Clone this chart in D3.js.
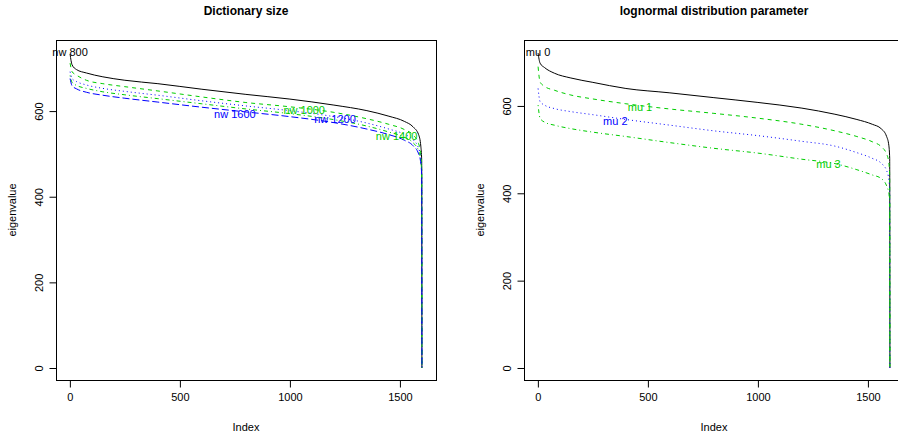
<html>
<head>
<meta charset="utf-8">
<style>
  body { margin: 0; background: #fff; }
  text { font-family: "Liberation Sans", Arial, Helvetica, sans-serif; }
</style>
</head>
<body>
<svg id="chart" width="898" height="434"></svg>
<script src="https://d3js.org/d3.v7.min.js" charset="utf-8"></script>
<script>
const index = [1, 10, 30, 75, 150, 250, 400, 600, 800, 1000, 1200, 1350, 1450, 1520, 1560, 1585, 1595, 1599, 1600]

// Dictionary size panel
const nw800  = [733, 708, 697, 689, 680, 672, 664, 651, 639, 628, 614, 601, 588, 576, 563, 545, 518, 485, 0]
const nw1000 = [712, 692, 684, 672, 664, 657, 647, 633, 620, 610, 597, 582, 569, 557, 544, 524, 497, 465, 0]
const nw1200 = [692, 676, 669, 661, 653, 646, 637, 624, 612, 601, 587, 572, 558, 546, 533, 513, 489, 458, 0]
const nw1400 = [683, 667, 660, 653, 645, 638, 629, 617, 605, 594, 580, 565, 551, 539, 526, 507, 484, 452, 0]
const nw1600 = [676, 659, 652, 644, 637, 630, 621, 609, 598, 587, 573, 558, 545, 532, 519, 500, 478, 448, 0]

// lognormal distribution parameter panel
const mu0 = [721, 698, 688, 675, 664, 654, 640, 630, 619, 608, 595, 581, 569, 558, 548, 530, 510, 480, 0]
const mu1 = [690, 655, 645, 636, 625, 616, 605, 593, 583, 572, 558, 543, 530, 518, 507, 490, 470, 440, 0]
const mu2 = [640, 610, 602, 594, 587, 580, 569, 556, 543, 532, 519, 508, 493, 480, 469, 452, 432, 405, 0]
const mu3 = [602, 572, 563, 556, 548, 540, 530, 516, 503, 492, 478, 468, 454, 442, 434, 417, 400, 375, 0]

// label anchors [index, value]
const nwLabels = [["nw 800", 1, 737], ["nw 1000", 1065, 602], ["nw 1200", 1205, 581], ["nw 1400", 1485, 542], ["nw 1600", 750, 592]]
const muLabels = [["mu 0", 1, 723], ["mu 1", 464, 598], ["mu 2", 352, 566], ["mu 3", 1321, 467]]

const xTicks = [0, 500, 1000, 1500]
const yTicks = [0, 200, 400, 600]

const GREEN = "#00cd00", BLUE = "#0000ff"
const dash = { solid: null, dashed: "4,4", dotted: "1,3", dotdash: "1,3,4,3", longdash: "7,3" }

const svg = d3.select("#chart")

function drawPanel(p) {
    let x = d3.scaleLinear().domain([-63, 1664]).range([p.left, p.left + 380])
    let y = d3.scaleLinear().domain(p.yDomain).range([380, 40])
    let g = svg.append("g")

    // series
    let line = d3.line().x(d => x(d[0])).y(d => y(d[1])).curve(d3.curveMonotoneX)
    p.series.forEach(s => {
        g.append("path")
            .datum(index.map((v, i) => [v, s.values[i]]))
            .attr("d", line)
            .attr("fill", "none")
            .attr("stroke", s.color)
            .attr("stroke-width", 1)
            .attr("stroke-dasharray", dash[s.lty])
    })

    // labels on the curves
    p.labels.forEach((l, i) => {
        g.append("text")
            .attr("x", x(l[1])).attr("y", y(l[2])).attr("dy", "0.35em")
            .attr("text-anchor", "middle")
            .style("font-size", "11px")
            .attr("fill", p.labelColors[i])
            .text(l[0])
    })

    // box
    g.append("rect")
        .attr("x", p.left + 0.5).attr("y", 40.5)
        .attr("width", 380).attr("height", 340)
        .attr("fill", "none").attr("stroke", "black")

    // axes
    let xAxis = d3.axisBottom(x).tickValues(xTicks).tickSize(7).tickPadding(6).tickFormat(d3.format("d"))
    let xg = g.append("g").attr("transform", "translate(0,380.5)").call(xAxis)
    let yAxis = d3.axisLeft(y).tickValues(yTicks).tickSize(7).tickPadding(10).tickFormat(d3.format("d"))
    let yg = g.append("g").attr("transform", `translate(${p.left + 0.5},0)`).call(yAxis)
    ;[xg, yg].forEach(a => {
        a.selectAll("text").style("font-size", "11px").attr("font-family", null).attr("fill", "black")
        a.selectAll("line").attr("stroke", "black")
        a.select(".domain").attr("stroke", "black")
    })
    xg.select(".domain").attr("d", `M${x(0)},0H${x(1500)}`)
    yg.select(".domain").attr("d", `M0,${y(0)}V${y(600)}`)
    yg.selectAll(".tick text")
        .attr("text-anchor", "middle").attr("dy", null)
        .attr("transform", function () {
            return `translate(-18,0) rotate(-90)`
        })
        .attr("x", 0).attr("y", 0)
        .attr("dominant-baseline", "central")

    // titles
    g.append("text")
        .attr("x", p.left + 190).attr("y", 15)
        .attr("text-anchor", "middle")
        .style("font-size", "12px").style("font-weight", "bold")
        .text(p.title)
    g.append("text")
        .attr("x", p.left + 190).attr("y", 431)
        .attr("text-anchor", "middle")
        .style("font-size", "11px")
        .text("Index")
    g.append("text")
        .attr("transform", `translate(${p.left - 44},210) rotate(-90)`)
        .attr("text-anchor", "middle").attr("dominant-baseline", "central")
        .style("font-size", "11px")
        .text("eigenvalue")
}

drawPanel({
    left: 56, yDomain: [-28, 766], title: "Dictionary size",
    series: [
        { values: nw800, color: "black", lty: "solid" },
        { values: nw1000, color: GREEN, lty: "dashed" },
        { values: nw1200, color: BLUE, lty: "dotted" },
        { values: nw1400, color: GREEN, lty: "dotdash" },
        { values: nw1600, color: BLUE, lty: "longdash" }
    ],
    labels: nwLabels, labelColors: ["black", GREEN, BLUE, GREEN, BLUE]
})

drawPanel({
    left: 524, yDomain: [-27.5, 751], title: "lognormal distribution parameter",
    series: [
        { values: mu0, color: "black", lty: "solid" },
        { values: mu1, color: GREEN, lty: "dashed" },
        { values: mu2, color: BLUE, lty: "dotted" },
        { values: mu3, color: GREEN, lty: "dotdash" }
    ],
    labels: muLabels, labelColors: ["black", GREEN, BLUE, GREEN]
})
</script>
</body>
</html>
